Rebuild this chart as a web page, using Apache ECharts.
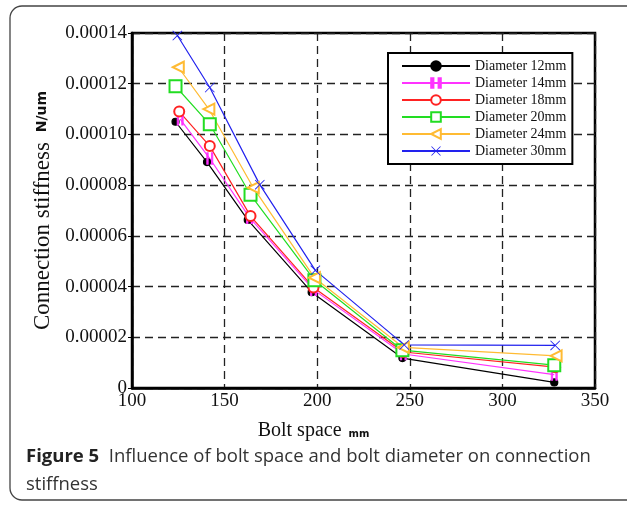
<!DOCTYPE html>
<html>
<head>
<meta charset="utf-8">
<script src="https://cdn.jsdelivr.net/npm/echarts@6/dist/echarts.min.js"></script>
<style>
  html, body { margin: 0; padding: 0; background: #fff; }
  #main { width: 627px; height: 505px; }
</style>
</head>
<body>
<div id="main"></div>
<script>
  // bolt space (mm) and connection stiffness (N/um)
  var space12 = [123.5, 140.5, 162.5, 197, 246, 328];
  var stiff12 = [0.000105, 0.0000891, 0.0000663, 0.0000378, 0.0000118, 0.0000022];
  var space14 = [126, 142, 163.5, 198, 246.5, 328];
  var stiff14 = [0.000106, 0.0000905, 0.0000672, 0.0000388, 0.0000134, 0.0000053];
  var space18 = [125.5, 142, 164, 198, 246.5, 328.5];
  var stiff18 = [0.000109, 0.0000954, 0.0000678, 0.0000396, 0.0000142, 0.0000082];
  var space20 = [123.5, 142, 164, 198.5, 246, 328];
  var stiff20 = [0.000119, 0.000104, 0.0000762, 0.0000425, 0.0000149, 0.0000090];
  var space24 = [125, 141.5, 165.5, 198.5, 246.5, 329];
  var stiff24 = [0.0001265, 0.000110, 0.000079, 0.0000435, 0.0000160, 0.0000127];
  var space30 = [124.5, 142, 169, 199, 247, 328.5];
  var stiff30 = [0.000139, 0.0001185, 0.0000802, 0.0000464, 0.0000170, 0.0000168];

  var names = ['Diameter 12mm', 'Diameter 14mm', 'Diameter 18mm', 'Diameter 20mm', 'Diameter 24mm', 'Diameter 30mm'];
  var xTicks = [100, 150, 200, 250, 300, 350];
  var yTicks = [0, 0.00002, 0.00004, 0.00006, 0.00008, 0.0001, 0.00012, 0.00014];

  var serif = '"Liberation Serif", "DejaVu Serif", serif';

  function pairs(xs, ys) {
    return xs.map(function (x, i) { return [x, ys[i]]; });
  }

  function line(name, xs, ys, color, symbol, size, extra) {
    var s = {
      name: name,
      type: 'line',
      data: pairs(xs, ys),
      symbol: symbol,
      symbolSize: size,
      showAllSymbol: true,
      lineStyle: { color: color, width: 1.2 },
      itemStyle: { color: color, borderColor: color, borderWidth: 1.2 },
      emphasis: { disabled: true },
      z: 3
    };
    for (var k in extra) s[k] = extra[k];
    return s;
  }

  var chart = echarts.init(document.getElementById('main'));

  var option = {
    animation: false,
    backgroundColor: '#fff',
    grid: {
      left: 132, right: 32, top: 33, bottom: 117,
      show: true, borderColor: '#000', borderWidth: 2.5,
      outerBoundsMode: 'none'
    },
    legend: {
      orient: 'vertical',
      left: 388, top: 53,
      data: names,
      itemWidth: 68, itemHeight: 12, itemGap: 3,
      padding: [6, 6, 6, 13],
      borderColor: '#000', borderWidth: 2,
      backgroundColor: '#fff',
      textStyle: { fontFamily: serif, fontSize: 14, color: '#111' }
    },
    xAxis: {
      type: 'value',
      min: xTicks[0], max: xTicks[xTicks.length - 1], interval: 50,
      name: 'Bolt space{u|  mm}',
      nameLocation: 'middle', nameGap: 33,
      nameTextStyle: {
        fontFamily: serif, fontSize: 20, color: '#111',
        padding: [0, 100, 0, 0],
        rich: { u: { fontFamily: '"DejaVu Sans", sans-serif', fontSize: 10, fontWeight: 'bold', color: '#111', padding: [6, 0, 0, 0] } }
      },
      axisLine: { show: true, lineStyle: { color: '#000', width: 2.5 } },
      axisTick: { show: false },
      axisLabel: { fontFamily: serif, fontSize: 19, color: '#111', margin: 4 },
      splitLine: { show: true, lineStyle: { color: '#222', width: 1.3, type: [8, 5] } }
    },
    yAxis: {
      type: 'value',
      min: yTicks[0], max: yTicks[yTicks.length - 1], interval: 0.00002,
      name: 'Connection stiffness{u|  N/um}',
      nameLocation: 'middle', nameGap: 76, nameRotate: 90,
      nameTextStyle: {
        fontFamily: serif, fontSize: 23, color: '#111',
        rich: { u: { fontFamily: '"DejaVu Sans", sans-serif', fontSize: 14, fontWeight: 'bold', color: '#111' } }
      },
      axisLine: { show: true, lineStyle: { color: '#000', width: 2.5 } },
      axisTick: { show: true, inside: false, length: 4, lineStyle: { color: '#000', width: 1 } },
      axisLabel: {
        fontFamily: serif, fontSize: 19, color: '#111', margin: 5,
        formatter: function (v) { return v === 0 ? '0' : v.toFixed(5); }
      },
      splitLine: { show: true, lineStyle: { color: '#222', width: 1.3, type: [8, 5] } }
    },
    series: [
      line(names[0], space12, stiff12, '#000000', 'circle', 7, {}),
      line(names[1], space14, stiff14, '#ff33ff', 'path://M0,0h1.2v10h-1.2zM4,0h1.2v10h-1.2z', [6, 11], {}),
      line(names[2], space18, stiff18, '#ff2222', 'emptyCircle', 10, {}),
      line(names[3], space20, stiff20, '#22dd22', 'emptyRect', 12, {}),
      line(names[4], space24, stiff24, '#ffbb33', 'emptyTriangle', 11, { symbolRotate: 90 }),
      line(names[5], space30, stiff30, '#2222ee',
        'path://M0,0.6L0.6,0L5,4.4L9.4,0L10,0.6L5.6,5L10,9.4L9.4,10L5,5.6L0.6,10L0,9.4L4.4,5Z', 10,
        { itemStyle: { color: '#2222ee', borderWidth: 0 } })
    ],
    graphic: [
      {
        type: 'rect', silent: true, z: -1,
        shape: { x: 10, y: 6, width: 700, height: 494, r: 12 },
        style: { fill: null, stroke: '#444', lineWidth: 1.3 }
      },
      {
        type: 'text', left: 26, top: 443, silent: true,
        style: {
          text: '{b|Figure 5}  Influence of bolt space and bolt diameter on connection\nstiffness',
          fontFamily: '"Open Sans", "Noto Sans", sans-serif', fontSize: 18.5, lineHeight: 28, fill: '#333',
          rich: { b: { fontFamily: '"Open Sans", "Noto Sans", sans-serif', fontSize: 18.5, fontWeight: 'bold', fill: '#222' } }
        }
      }
    ]
  };

  chart.setOption(option);
</script>
</body>
</html>
